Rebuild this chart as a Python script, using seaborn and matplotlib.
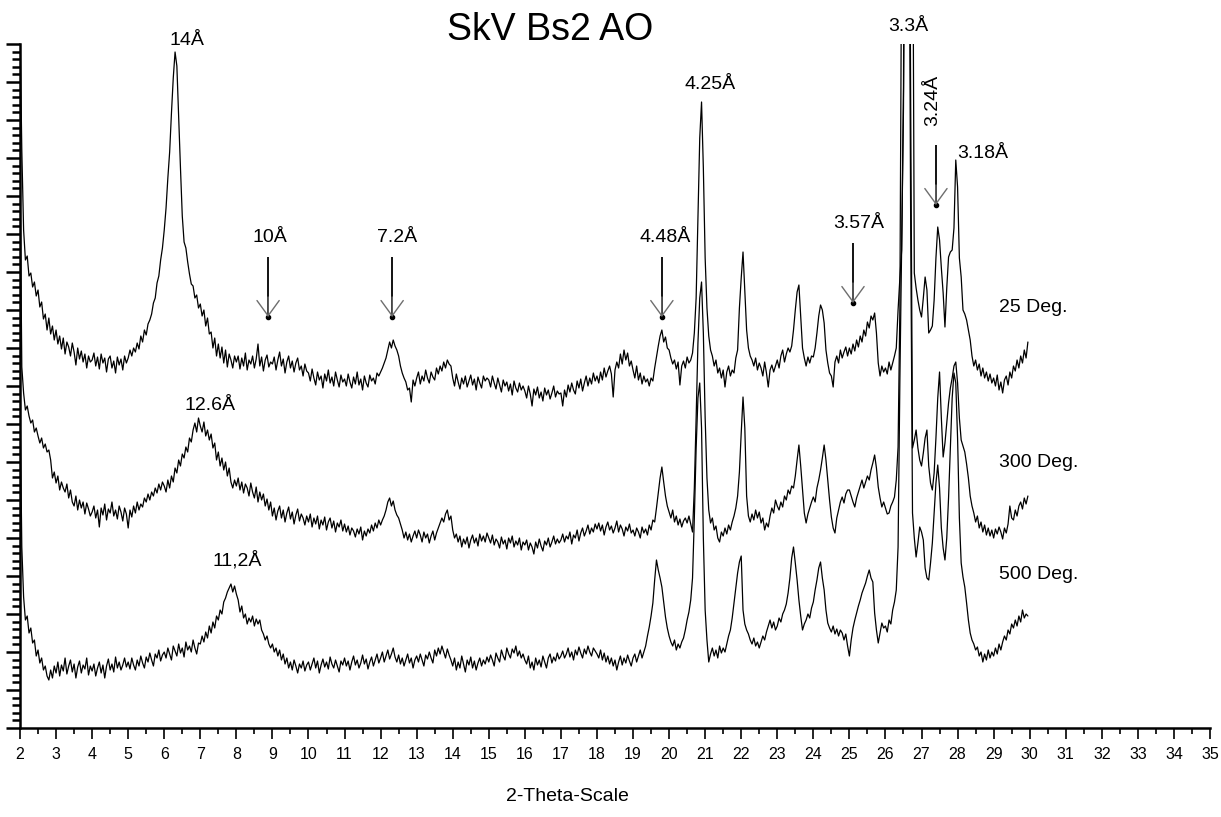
import numpy as np
import pandas as pd
import matplotlib
matplotlib.use("Agg")
import matplotlib.pyplot as plt
from matplotlib.ticker import MultipleLocator, NullFormatter
import seaborn as sns

# Scan grid: 2-theta from 2.00 to 29.95 deg in 0.05 deg steps
START, STEP = 2.0, 0.05

# Intensities (arbitrary units, already stacked with their display offsets)
int_25 = [
    700, 578, 498, 468, 472, 452, 455, 441, 446, 432, 438, 421, 426, 409, 414, 398, 410, 394, 402, 388,
    398, 384, 392, 379, 390, 374, 386, 381, 372, 385, 376, 363, 380, 369, 377, 366, 374, 360, 372, 366,
    368, 375, 362, 371, 359, 374, 365, 370, 356, 369, 372, 360, 367, 355, 371, 363, 369, 358, 372, 365,
    370, 378, 372, 380, 376, 385, 379, 392, 386, 398, 393, 404, 408, 414, 425, 430, 445, 452, 468, 480,
    498, 520, 550, 576, 615, 650, 676, 662, 610, 560, 512, 486, 480, 466, 454, 444, 442, 430, 433, 420,
    424, 412, 418, 402, 410, 394, 396, 380, 390, 372, 384, 370, 381, 365, 378, 361, 374, 368, 360, 372,
    366, 372, 359, 370, 362, 375, 358, 368, 364, 372, 360, 369, 384, 362, 371, 357, 368, 373, 361, 366,
    364, 371, 358, 368, 376, 362, 369, 355, 366, 372, 360, 367, 356, 365, 370, 358, 362, 352, 364, 357,
    355, 347, 359, 350, 343, 356, 348, 352, 340, 354, 347, 358, 345, 351, 342, 356, 348, 341, 353, 346,
    349, 342, 354, 346, 340, 351, 344, 356, 343, 349, 338, 352, 345, 341, 353, 347, 350, 344, 355, 352,
    356, 360, 365, 370, 378, 386, 380, 388, 382, 378, 372, 362, 355, 350, 346, 338, 340, 326, 348, 342,
    350, 356, 344, 352, 347, 358, 350, 345, 356, 351, 348, 360, 354, 362, 357, 366, 360, 368, 364, 362,
    350, 342, 354, 346, 339, 350, 344, 352, 341, 347, 353, 343, 349, 338, 351, 345, 340, 352, 347, 350,
    348, 341, 352, 345, 339, 350, 343, 336, 348, 342, 346, 337, 344, 333, 347, 340, 336, 345, 338, 342,
    337, 330, 342, 334, 322, 339, 333, 341, 330, 336, 327, 340, 333, 338, 329, 335, 342, 331, 337, 334,
    335, 322, 338, 331, 343, 336, 345, 338, 334, 347, 340, 349, 337, 345, 352, 342, 350, 344, 355, 347,
    352, 345, 356, 348, 360, 351, 357, 362, 354, 331, 358, 366, 360, 374, 364, 378, 368, 375, 362, 367,
    358, 350, 362, 348, 355, 344, 352, 346, 349, 342, 350, 347, 360, 371, 382, 392, 398, 386, 391, 380,
    378, 370, 364, 368, 359, 366, 343, 362, 367, 360, 371, 365, 368, 375, 395, 430, 510, 590, 626, 560,
    470, 420, 392, 378, 372, 362, 368, 355, 360, 350, 358, 341, 356, 362, 352, 358, 355, 370, 378, 420,
    450, 476, 438, 398, 380, 372, 368, 362, 370, 358, 365, 360, 352, 366, 355, 341, 358, 363, 356, 362,
    368, 360, 372, 378, 366, 374, 380, 376, 382, 398, 418, 436, 443, 412, 380, 370, 362, 371, 365, 372,
    371, 380, 395, 412, 423, 418, 405, 378, 365, 355, 352, 341, 366, 372, 365, 378, 370, 376, 381, 372,
    380, 374, 384, 377, 388, 381, 392, 386, 398, 392, 406, 400, 412, 408, 415, 395, 365, 352, 362, 356,
    360, 354, 366, 358, 365, 372, 380, 418, 450, 478, 640, 1100, 1500, 1800, 1400, 900, 455, 440, 428, 418,
    411, 430, 451, 438, 395, 398, 402, 428, 470, 501, 488, 460, 435, 401, 440, 471, 476, 478, 500, 568,
    541, 470, 451, 418, 414, 408, 398, 388, 372, 362, 368, 358, 364, 352, 360, 350, 356, 347, 354, 345,
    350, 342, 353, 338, 346, 335, 348, 352, 343, 356, 350, 362, 357, 368, 360, 372, 365, 378, 370, 386,
]

int_300 = [
    560, 361, 335, 318, 322, 312, 305, 308, 296, 300, 292, 285, 290, 280, 284, 276, 278, 268, 250, 256,
    245, 252, 238, 246, 240, 236, 244, 230, 238, 226, 222, 232, 218, 228, 220, 226, 214, 225, 219, 212,
    216, 222, 210, 218, 201, 220, 213, 224, 208, 219, 215, 226, 212, 218, 209, 222, 216, 207, 220, 214,
    200, 218, 211, 222, 215, 226, 218, 224, 221, 230, 226, 234, 228, 236, 232, 240, 235, 244, 238, 246,
    242, 236, 248, 240, 252, 246, 260, 255, 268, 262, 274, 270, 281, 276, 290, 286, 298, 305, 296, 310,
    302, 296, 306, 292, 298, 288, 294, 280, 285, 268, 276, 262, 270, 258, 266, 252, 260, 246, 240, 248,
    242, 250, 238, 246, 235, 244, 240, 232, 245, 236, 230, 241, 226, 236, 228, 234, 222, 229, 218, 226,
    212, 220, 208, 217, 222, 210, 218, 206, 215, 221, 209, 216, 204, 213, 219, 207, 214, 210, 203, 212,
    206, 214, 201, 210, 204, 212, 199, 208, 203, 211, 198, 206, 210, 200, 207, 196, 205, 201, 208, 197,
    204, 196, 202, 193, 200, 197, 191, 199, 194, 201, 188, 197, 192, 199, 195, 203, 197, 205, 200, 208,
    203, 208, 212, 218, 226, 230, 222, 227, 218, 213, 210, 204, 198, 190, 196, 188, 194, 186, 192, 197,
    190, 198, 193, 186, 196, 190, 194, 185, 192, 197, 188, 195, 200, 205, 210, 206, 214, 218, 208, 212,
    198, 190, 194, 186, 192, 181, 189, 184, 191, 180, 188, 193, 185, 190, 182, 194, 187, 192, 186, 195,
    190, 185, 193, 183, 189, 186, 180, 191, 184, 188, 179, 190, 185, 192, 181, 187, 183, 190, 178, 186,
    183, 188, 178, 185, 181, 174, 186, 180, 189, 182, 177, 187, 183, 190, 181, 186, 192, 184, 189, 185,
    188, 194, 186, 192, 189, 196, 184, 193, 190, 198, 187, 195, 200, 192, 197, 203, 194, 200, 196, 204,
    199, 205, 197, 203, 193, 201, 206, 198, 202, 195, 200, 207, 196, 203, 199, 192, 201, 197, 204, 195,
    198, 192, 200, 196, 190, 201, 195, 199, 193, 203, 198, 208, 206, 220, 235, 250, 261, 246, 232, 222,
    216, 210, 218, 206, 212, 203, 209, 201, 207, 210, 205, 212, 204, 196, 240, 310, 385, 430, 446, 395,
    310, 250, 218, 205, 210, 198, 202, 190, 186, 196, 192, 200, 194, 203, 198, 206, 212, 220, 232, 256,
    295, 331, 300, 232, 212, 206, 214, 208, 218, 210, 216, 205, 210, 198, 205, 201, 212, 220, 215, 228,
    222, 218, 226, 221, 232, 228, 238, 234, 242, 240, 252, 268, 283, 262, 238, 215, 205, 214, 220, 226,
    231, 226, 240, 248, 258, 270, 283, 268, 248, 228, 211, 200, 195, 210, 218, 226, 231, 225, 234, 238,
    238, 232, 226, 221, 230, 236, 242, 248, 240, 246, 252, 248, 258, 265, 273, 260, 241, 230, 221, 226,
    220, 214, 215, 222, 226, 231, 248, 281, 420, 800, 1300, 1600, 1500, 1000, 620, 280, 288, 298, 280, 268,
    262, 275, 290, 298, 262, 245, 238, 255, 290, 330, 356, 310, 271, 285, 305, 325, 340, 350, 362, 366,
    345, 310, 288, 282, 276, 264, 250, 232, 222, 215, 206, 212, 200, 206, 196, 203, 193, 200, 192, 198,
    190, 199, 194, 201, 196, 189, 200, 195, 204, 222, 210, 208, 218, 212, 222, 226, 219, 230, 224, 232,
]

int_500 = [
    330, 181, 131, 108, 112, 95, 100, 85, 88, 72, 78, 65, 70, 58, 62, 52, 48, 58, 50, 62,
    55, 66, 52, 63, 57, 70, 54, 62, 68, 56, 64, 50, 61, 67, 55, 63, 59, 70, 53, 62,
    57, 64, 52, 60, 66, 55, 63, 50, 62, 69, 58, 64, 56, 71, 60, 66, 58, 63, 70, 61,
    66, 59, 70, 63, 58, 68, 62, 72, 65, 60, 71, 66, 75, 68, 62, 74, 70, 78, 67, 73,
    76, 70, 80, 74, 68, 82, 77, 72, 84, 75, 80, 71, 86, 78, 82, 76, 88, 80, 74, 85,
    84, 92, 86, 96, 90, 102, 95, 106, 100, 112, 108, 118, 114, 126, 130, 136, 140, 144, 136, 142,
    134, 128, 116, 122, 110, 114, 104, 110, 106, 112, 102, 109, 104, 108, 98, 94, 88, 92, 84, 80,
    84, 76, 80, 72, 78, 68, 74, 64, 70, 60, 66, 58, 68, 62, 55, 64, 60, 67, 57, 63,
    66, 58, 64, 70, 60, 67, 55, 63, 69, 61, 66, 59, 71, 64, 60, 68, 62, 56, 67, 63,
    70, 62, 67, 58, 66, 72, 63, 68, 60, 65, 73, 64, 69, 59, 66, 71, 62, 68, 74, 65,
    70, 76, 66, 72, 78, 69, 74, 80, 71, 66, 73, 64, 70, 62, 68, 74, 65, 70, 60, 68,
    72, 66, 74, 68, 62, 73, 69, 76, 70, 65, 78, 72, 80, 74, 82, 76, 70, 79, 73, 68,
    62, 70, 58, 66, 60, 72, 64, 56, 68, 63, 71, 60, 67, 58, 65, 70, 62, 68, 64, 71,
    66, 73, 68, 62, 75, 70, 66, 78, 72, 68, 80, 74, 70, 79, 75, 82, 72, 77, 70, 74,
    68, 64, 72, 60, 66, 58, 70, 63, 68, 61, 72, 66, 60, 70, 74, 65, 71, 67, 75, 69,
    72, 77, 70, 74, 80, 71, 76, 68, 78, 73, 81, 75, 70, 79, 74, 82, 76, 72, 80, 77,
    74, 70, 78, 68, 75, 66, 72, 64, 70, 62, 68, 58, 66, 72, 63, 70, 65, 73, 67, 62,
    70, 74, 66, 72, 78, 70, 76, 82, 92, 101, 112, 125, 148, 168, 158, 150, 141, 126, 111, 100,
    92, 86, 82, 88, 78, 84, 80, 86, 90, 98, 108, 116, 128, 150, 210, 280, 330, 345, 300, 190,
    118, 88, 66, 74, 80, 72, 78, 70, 82, 75, 80, 76, 84, 92, 98, 110, 125, 140, 155, 166,
    172, 118, 104, 98, 94, 88, 84, 90, 82, 86, 80, 86, 92, 88, 96, 102, 108, 100, 106, 98,
    102, 110, 106, 114, 118, 124, 135, 150, 170, 181, 165, 148, 128, 112, 98, 104, 108, 114, 110, 120,
    126, 138, 148, 160, 166, 150, 138, 118, 105, 100, 96, 102, 94, 99, 92, 98, 95, 88, 94, 82,
    72, 88, 100, 108, 115, 122, 128, 135, 140, 145, 152, 158, 150, 146, 115, 98, 85, 95, 105, 100,
    102, 96, 108, 104, 118, 126, 138, 181, 348, 480, 620, 900, 1400, 900, 500, 215, 190, 171, 185, 201,
    196, 188, 160, 150, 148, 165, 185, 215, 245, 263, 240, 200, 180, 168, 190, 230, 280, 330, 355, 345,
    290, 210, 165, 151, 141, 125, 108, 95, 88, 84, 78, 81, 72, 76, 66, 74, 68, 78, 70, 76,
    72, 80, 74, 84, 78, 86, 92, 88, 98, 94, 104, 100, 108, 102, 112, 106, 118, 110, 114, 112,
]

scan_names = ["25 Deg.", "300 Deg.", "500 Deg."]

# d-spacing labels: (text, 2-theta, height)
peak_labels = [
    ("14Å", 6.63, 688), ("12.6Å", 7.27, 323), ("11,2Å", 8.02, 168),
    ("10Å", 8.93, 491), ("7.2Å", 12.45, 491), ("4.48Å", 19.89, 491),
    ("4.25Å", 21.13, 644), ("3.57Å", 25.27, 505), ("3.3Å", 26.63, 702),
    ("3.18Å", 28.71, 575),
]
# arrows marking weak reflections: (2-theta, top, tip)
arrows = [(8.88, 471, 411), (12.32, 471, 411), (19.80, 471, 411),
          (25.10, 485, 425), (27.40, 583, 523)]
scan_label_pos = [(30.09, 421), (30.26, 266), (30.26, 154)]

sns.set_style("ticks")
plt.rcParams["font.family"] = ["Liberation Sans", "DejaVu Sans"]
plt.rcParams.update({"text.color": "black", "axes.labelcolor": "black",
                     "xtick.color": "black", "ytick.color": "black",
                     "axes.edgecolor": "black"})

fig = plt.figure(figsize=(12.21, 8.17), dpi=100)
ax = fig.add_axes([0.01638, 0.10893, 0.97461, 0.83721])

theta = START + STEP * np.arange(len(int_25))
for name, vals in zip(scan_names, [int_25, int_300, int_500]):
    df = pd.DataFrame({"2theta": theta[: len(vals)], "intensity": vals})
    sns.lineplot(data=df, x="2theta", y="intensity", ax=ax, color="black",
                 linewidth=0.9, estimator=None, sort=False)

ax.set_xlim(2, 35)
ax.set_ylim(0, 684)
ax.set_xlabel("")
ax.set_ylabel("")
for side in ("top", "right"):
    ax.spines[side].set_visible(False)
for side in ("left", "bottom"):
    ax.spines[side].set_linewidth(1.8)
    ax.spines[side].set_color("black")

ax.xaxis.set_major_locator(MultipleLocator(1))
ax.xaxis.set_minor_locator(MultipleLocator(0.5))
ax.yaxis.set_major_locator(MultipleLocator(38))
ax.yaxis.set_minor_locator(MultipleLocator(7.6))
ax.yaxis.set_major_formatter(NullFormatter())
ax.tick_params(axis="x", which="major", direction="out", length=8, width=1.2,
               labelsize=11.5, pad=6, bottom=True, colors="black")
ax.tick_params(axis="x", which="minor", direction="out", length=4, width=1.2, bottom=True)
ax.tick_params(axis="y", which="major", direction="out", length=10, width=1.8, left=True)
ax.tick_params(axis="y", which="minor", direction="out", length=6, width=1.8, left=True)

for text, x, y in peak_labels:
    ax.text(x, y, text, ha="center", va="center", fontsize=14, clip_on=False)
ax.text(27.30, 628, "3.24Å", ha="center", va="center", fontsize=14, rotation=90)

# arrows: black shaft, grey open head, dot at the tip
for x, y0, y1 in arrows:
    ax.plot([x, x], [y0, y1], color="black", lw=1.3, solid_capstyle="butt")
    ax.annotate("", xy=(x, y1), xytext=(x, y1 + 20),
                arrowprops=dict(arrowstyle="->,head_length=1.1,head_width=0.8",
                                color="#6e6e6e", lw=1.0, shrinkA=0, shrinkB=0))
    ax.plot([x], [y1], marker="o", ms=3, color="black", mec="black")

for name, (x, y) in zip(scan_names, scan_label_pos):
    ax.text(x, y, name, ha="center", va="center", fontsize=14)

fig.text(0.4505, 0.9633, "SkV Bs2 AO", ha="center", va="center", fontsize=27)
fig.text(0.4644, 0.0245, "2-Theta-Scale", ha="center", va="center", fontsize=14)

fig.savefig("out.png", dpi=100)
